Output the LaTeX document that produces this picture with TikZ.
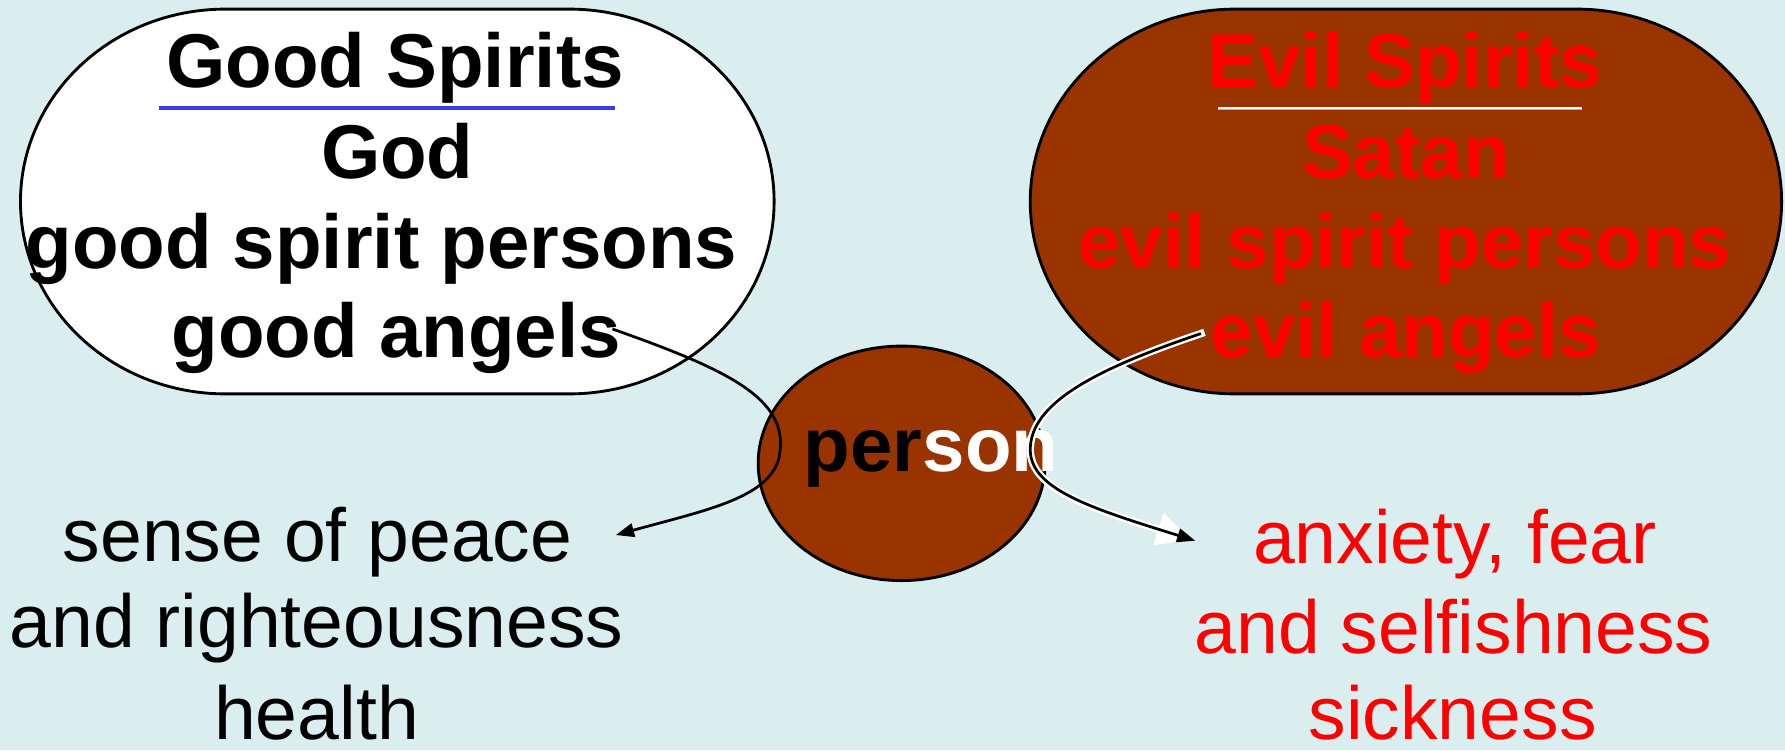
\documentclass[tikz,border=0pt]{standalone}
\usepackage{fontspec}
\setmainfont{Liberation Sans}
\usetikzlibrary{arrows.meta}
\definecolor{bgc}{HTML}{DAEDEF}
\definecolor{brownc}{HTML}{993300}
\definecolor{redc}{HTML}{FF0000}
\definecolor{bluec}{HTML}{3A3AF0}
\begin{document}
\begin{tikzpicture}[x=1pt,y=-1pt,
  boldtxt/.style={inner sep=0pt,anchor=base,font=\fontsize{67}{79}\selectfont\bfseries},
  plaintxt/.style={inner sep=0pt,anchor=base,font=\fontsize{66}{79}\selectfont},
  outline/.style={draw=black,line width=2.5pt},
  conn/.style={line width=2.4pt,black},
]
\useasboundingbox (0,0) rectangle (1568,659);
\fill[bgc] (0,0) rectangle (1568,659);

% Good spirits shape
\filldraw[fill=white,outline] (198,8) -- (500,8)
  .. controls (599.4,8) and (680,83.7) .. (680,177)
  .. controls (680,270.3) and (599.4,346) .. (500,346) -- (198,346)
  .. controls (98.6,346) and (18,270.3) .. (18,177)
  .. controls (18,83.7) and (98.6,8) .. (198,8) -- cycle;

% Evil spirits shape
\filldraw[fill=brownc,outline] (1085,8) -- (1385,8)
  .. controls (1484.4,8) and (1565,83.7) .. (1565,177)
  .. controls (1565,270.3) and (1484.4,346) .. (1385,346) -- (1085,346)
  .. controls (985.6,346) and (905,270.3) .. (905,177)
  .. controls (905,83.7) and (985.6,8) .. (1085,8) -- cycle;

% Person ellipse
\filldraw[fill=brownc,outline] (792,407) ellipse [x radius=126, y radius=103];

% Good spirits text
\node[boldtxt] (gs) at (347,77) {Good Spirits};
\draw[bluec,line width=3pt] (140,95) -- (540,95);
\node[boldtxt] (god) at (349,157) {God};
\node[boldtxt] (gsp) at (335,236) {good spirit persons};
\node[boldtxt] (ga) at (348,314) {good angels};

% Evil spirits text
\node[boldtxt,text=redc] (es) at (1234,77) {Evil Spirits};
\draw[gray!60,line width=2.6pt] (1070,95) -- (1390,95);
\draw[white,line width=1.2pt] (1070,95) -- (1390,95);
\node[boldtxt,text=redc] (satan) at (1235,157) {Satan};
\node[boldtxt,text=redc] (esp) at (1234,236) {evil spirit persons};
\node[boldtxt,text=redc] (ea) at (1235,314) {evil angels};

% person text
\node[boldtxt,anchor=base west] (person) at (706,414) {per\textcolor{white}{son}};

% bottom texts
\node[plaintxt] (peace) at (279,493) {sense of peace};
\node[plaintxt] (right) at (278,569) {and righteousness};
\node[plaintxt] (health) at (278,650) {health};
\node[plaintxt,text=redc] (anx) at (1278,495) {anxiety, fear};
\node[plaintxt,text=redc] (self) at (1277,574) {and selfishness};
\node[plaintxt,text=redc] (sick) at (1276,650) {sickness};

% connector end points
\coordinate (gastart) at (538,289);
\coordinate (peacetip) at (541,470);
\coordinate (eastart) at (1055,293);
\coordinate (anxtip) at (1050,475);

% left connector
\draw[conn,-{Triangle[length=16pt,width=12pt]}] (gastart)
  .. controls (640,325) and (692,350) .. (685,398)
  .. controls (680,437) and (620,448) .. (peacetip);

% right connector (white border)
\draw[white,line width=6.5pt,line cap=rect,-{Triangle[length=30pt,width=28pt]},shorten >=4pt] (eastart)
  .. controls (960,325) and (905,355) .. (905,395)
  .. controls (905,430) and (960,447) .. (anxtip);
\draw[conn,-{Triangle[length=16pt,width=12pt]}] (eastart)
  .. controls (960,325) and (905,355) .. (905,395)
  .. controls (905,430) and (960,447) .. (anxtip);
\end{tikzpicture}
\end{document}
